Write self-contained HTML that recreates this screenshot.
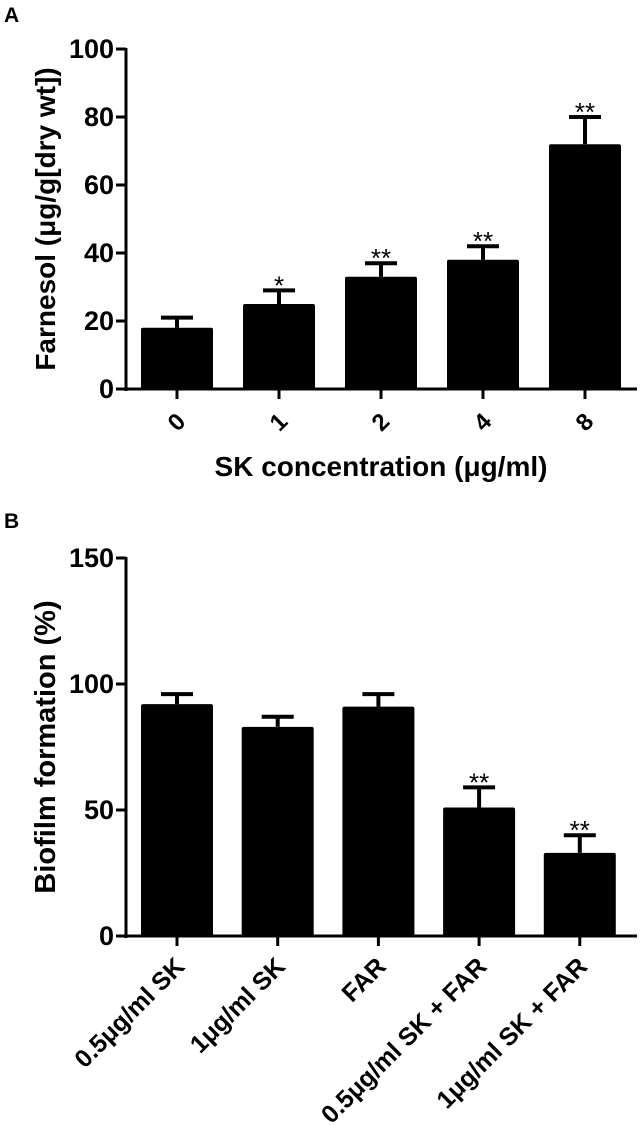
<!DOCTYPE html>
<html><head><meta charset="utf-8"><style>
html,body{margin:0;padding:0;background:#fff;}
svg{display:block;font-family:"Liberation Sans",Arial,sans-serif;font-weight:bold;}
</style></head><body>
<svg id="chart" width="642" height="1125" viewBox="0 0 642 1125">
<text x="4" y="22" font-size="21">A</text>
<text x="4" y="528" font-size="21">B</text>
<g id="pa"></g>
<g id="pb"></g>
</svg>
<script>
const catsA = ["0","1","2","4","8"];
const valsA = [18,25,33,38,72];
const errA = [21,29,37,42,80];
const starsA = ["","*","**","**","**"];
const ticksA = [0,20,40,60,80,100];
const catsB = ["0.5\u03bcg/ml SK","1\u03bcg/ml SK","FAR","0.5\u03bcg/ml SK + FAR","1\u03bcg/ml SK + FAR"];
const valsB = [92,83,91,51,33];
const errB = [96,87,96,59,40];
const starsB = ["","","","**","**"];
const ticksB = [0,50,100,150];

const NS="http://www.w3.org/2000/svg";
function mk(p,t,a,txt){const e=document.createElementNS(NS,t);for(const k in a)e.setAttribute(k,a[k]);if(txt!==undefined)e.textContent=txt;p.appendChild(e);return e;}

function panel(g,cfg){
  const y=v=>cfg.y0-(v-cfg.min)/(cfg.max-cfg.min)*(cfg.y0-cfg.y1);
  const xc=i=>cfg.x0+cfg.step*i;
  let e;
  e=mk(g,"line",{x1:126,y1:y(cfg.max)-1,x2:126,y2:y(0)+2,stroke:"#000","stroke-width":3});
  
  
  e=mk(g,"line",{x1:117,y1:y(0),x2:637,y2:y(0),stroke:"#000","stroke-width":3});
  
  
  cfg.ticks.forEach(t=>{
    e=mk(g,"line",{x1:116,y1:y(t),x2:126,y2:y(t),stroke:"#000","stroke-width":3});
    
    
    e=mk(g,"text",{x:cfg.tlx,y:y(t)+9,"font-size":cfg.tfs,"text-anchor":"end"},String(t));
    
    
  });
  cfg.vals.forEach((v,i)=>{
    const c=xc(i);
    e=mk(g,"line",{x1:c,y1:y(cfg.err[i]),x2:c,y2:y(v),stroke:"#000","stroke-width":4});
    
    
    e=mk(g,"line",{x1:c-16,y1:y(cfg.err[i]),x2:c+16,y2:y(cfg.err[i]),stroke:"#000","stroke-width":4});
    
    
    e=mk(g,"rect",{x:c-36,y:y(v),width:72,height:y(0)-y(v),rx:2,fill:"#000"});
    
    
    if(cfg.stars[i]){
      e=mk(g,"text",{x:c,y:y(cfg.err[i])+4,"font-size":26,"font-weight":"normal","text-anchor":"middle"},cfg.stars[i]);
      
      
    }
    e=mk(g,"line",{x1:c,y1:y(0),x2:c,y2:y(0)+10,stroke:"#000","stroke-width":3});
    
    
    const lx=c+cfg.lx, ly=y(0)+cfg.ly;
    e=mk(g,"text",{x:lx,y:ly,"font-size":cfg.lfs,"text-anchor":"end",transform:`rotate(-45 ${lx} ${ly})`},cfg.cats[i]);
    
    
  });
  e=mk(g,"text",{x:0,y:0,"font-size":cfg.yfs,"text-anchor":"middle",transform:`translate(${cfg.ytx} ${cfg.yty}) rotate(-90)`},cfg.ytitle);
  
  
  if(cfg.xtitle){
    e=mk(g,"text",{x:381,y:476,"font-size":28,"text-anchor":"middle"},cfg.xtitle);
    
    
  }
}
panel(document.getElementById("pa"),{cats:catsA,vals:valsA,err:errA,stars:starsA,ticks:ticksA,min:0,max:100,y0:389,y1:49,x0:177,step:102,lx:10,ly:34,lfs:24,tfs:27,tlx:114,yfs:28,ytitle:"Farnesol (\u03bcg/g[dry wt])",ytx:55,yty:219,xtitle:"SK concentration (\u03bcg/ml)"});
panel(document.getElementById("pb"),{cats:catsB,vals:valsB,err:errB,stars:starsB,ticks:ticksB,min:0,max:150,y0:936,y1:558,x0:177,step:100.7,lx:9,ly:32,lfs:25,tfs:27,tlx:114,yfs:29,ytitle:"Biofilm formation (%)",ytx:55,yty:747});
</script>
</body></html>
